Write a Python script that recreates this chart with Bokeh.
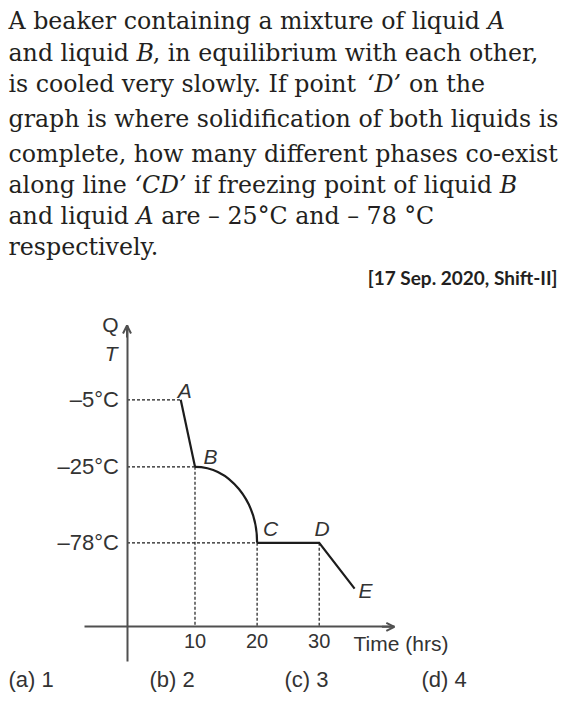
import numpy as np
from bokeh.plotting import figure
from bokeh.models import Range1d, Label, Arrow, OpenHead, FixedTicker
from bokeh.embed import file_html
from bokeh.resources import INLINE

# ---------------- data ----------------
point_names = ["A", "B", "C", "D", "E"]
time_hrs = [7.7, 10, 20, 30, 35.7]
temp_c = [-5, -25, -78, -78, -110]
temp_ticks = [-5, -25, -78]
temp_tick_labels = ["–5°C", "–25°C", "–78°C"]
time_ticks = [10, 20, 30]
time_tick_labels = ["10", "20", "30"]
options = ["(a) 1", "(b) 2", "(c) 3", "(d) 4"]
source_tag = "[17 Sep. 2020, Shift-II]"

question_lines = [
    [("A beaker containing a mixture of liquid ", "n"), ("A", "i")],
    [("and liquid ", "n"), ("B", "i"), (", in equilibrium with each other,", "n")],
    [("is cooled very slowly. If point ", "n"), ("‘D’", "i"), (" on the", "n")],
    [("graph is where solidification of both liquids is", "n")],
    [("complete, how many different phases co-exist", "n")],
    [("along line ", "n"), ("‘CD’", "i"), (" if freezing point of liquid ", "n"), ("B", "i")],
    [("and liquid ", "n"), ("A", "i"), (" are – 25°C and – 78 °C", "n")],
    [("respectively.", "n")],
]

# ---------------- schematic temperature axis (drawing is not to scale) ----------------
AXIS_T = [-78, -25, -5]
AXIS_POS = [0, 76, 143]


def t_pos(T):
    T = np.asarray(T, dtype=float)
    pos = np.interp(T, AXIS_T, AXIS_POS)
    lo = (AXIS_POS[1] - AXIS_POS[0]) / (AXIS_T[1] - AXIS_T[0])
    return np.where(T < AXIS_T[0], AXIS_POS[0] + (T - AXIS_T[0]) * lo, pos)


pos = t_pos(temp_c)

# ---------------- layout: frame fills the whole figure ----------------
W, H = 560, 696
PXH = 6.21            # pixels per hour
T0_PX = 132.4         # pixel column of t = 0
P0_PX = 542.3         # pixel row of schematic position 0 (-78 °C)
X0, X1 = -T0_PX / PXH, (W - T0_PX) / PXH
Y0, Y1 = P0_PX - H, P0_PX
BASE_SHIFT = 0.35     # label anchor sits ~0.35em above the glyph baseline

p = figure(width=W, height=H, x_range=Range1d(X0, X1), y_range=Range1d(Y0, Y1),
           output_backend="svg", toolbar_location=None, title=None,
           min_border=0, min_border_left=0, min_border_right=0,
           min_border_top=0, min_border_bottom=0,
           outline_line_color=None, background_fill_color="white",
           border_fill_color="white")
p.grid.visible = False

SANS = "Liberation Sans"
GREY = "#333333"
INK = "#1c1c1c"
AXC = "#505050"

AXIS_X = -0.95        # time value where the T axis is drawn
AXIS_Y = -84.0        # schematic position where the time axis is drawn
Y_TOP, Y_BOT = 217.3, -118.7
X_LEFT, X_RIGHT = -7.8, 42.1

xa, ya = p.xaxis[0], p.yaxis[0]
for ax in (xa, ya):
    ax.axis_line_color = AXC
    ax.axis_line_width = 2
    ax.major_tick_line_color = None
    ax.minor_tick_line_color = None
    ax.major_tick_out = 0
    ax.major_tick_in = 0
    ax.major_label_text_font = SANS
    ax.major_label_text_color = GREY

xa.fixed_location = AXIS_Y
xa.bounds = (X_LEFT, X_RIGHT)
xa.ticker = FixedTicker(ticks=time_ticks)
xa.major_label_overrides = {t: s for t, s in zip(time_ticks, time_tick_labels)}
xa.major_label_text_font_size = "20px"
xa.major_label_standoff = 7

ytick_pos = [float(v) for v in t_pos(temp_ticks)]
ya.fixed_location = AXIS_X
ya.bounds = (Y_BOT, Y_TOP)
ya.ticker = FixedTicker(ticks=ytick_pos)
ya.major_label_overrides = {v: s for v, s in zip(ytick_pos, temp_tick_labels)}
ya.major_label_text_font_size = "22px"
ya.major_label_standoff = 8

# arrow heads on the axes
p.add_layout(Arrow(end=OpenHead(size=8, line_color=AXC, line_width=2),
                   x_start=AXIS_X, y_start=Y_TOP - 12, x_end=AXIS_X, y_end=Y_TOP,
                   line_color=AXC, line_width=2))
p.add_layout(Arrow(end=OpenHead(size=8, line_color=AXC, line_width=2),
                   x_start=X_RIGHT - 2, y_start=AXIS_Y, x_end=X_RIGHT, y_end=AXIS_Y,
                   line_color=AXC, line_width=2))

# dashed guides
h_idx = [0, 1, 2]
v_idx = [1, 2, 3]
p.segment(x0=[AXIS_X] * len(h_idx), y0=[pos[i] for i in h_idx],
          x1=[time_hrs[i] for i in h_idx], y1=[pos[i] for i in h_idx],
          line_color=INK, line_width=1.2, line_dash="3 2")
p.segment(x0=[time_hrs[i] for i in v_idx], y0=[pos[i] for i in v_idx],
          x1=[time_hrs[i] for i in v_idx], y1=[AXIS_Y] * len(v_idx),
          line_color=INK, line_width=1.2, line_dash="3 2")

# cooling curve
p.line(time_hrs[0:2], pos[0:2], line_color=INK, line_width=2.2)
k = 0.5523
tB, pB, tC, pC = time_hrs[1], pos[1], time_hrs[2], pos[2]
p.bezier(x0=[tB], y0=[pB], x1=[tC], y1=[pC],
         cx0=[tB + k * (tC - tB)], cy0=[pB], cx1=[tC], cy1=[pC + k * (pB - pC)],
         line_color=INK, line_width=2.2)
p.line(time_hrs[2:5], pos[2:5], line_color=INK, line_width=2.2, line_join="miter")

# point letters (pixel offsets of the baseline from the point)
LSIZE = 21
letter_off = [(-3, 2), (8.5, 3), (6, 7), (-4.7, 7), (4, -9)]
for name, t, y, (dx, dy) in zip(point_names, time_hrs, pos, letter_off):
    p.add_layout(Label(x=t + dx / PXH, y=y + dy + BASE_SHIFT * LSIZE, text=name,
                       text_font=SANS, text_font_style="italic",
                       text_font_size=f"{LSIZE}px", text_color=GREY,
                       text_baseline="alphabetic", text_align="left"))


# ---------------- texts placed in page pixels ----------------
def img_label(X, Y, text, size, **kw):
    """X, Y in page pixels (Y = glyph baseline, measured from the top)."""
    base = dict(text_baseline="alphabetic", text_align="left")
    base.update(kw)
    p.add_layout(Label(x=X, y=H - Y + BASE_SHIFT * size, x_units="screen", y_units="screen",
                       text=text, text_font_size=f"{size}px", **base))


img_label(118, 331, "Q", 21, text_font=SANS, text_color=GREY, text_align="right")
img_label(117, 360, "T", 21, text_font=SANS, text_color=GREY,
          text_align="right", text_font_style="italic")
img_label(353, 650, "Time (hrs)", 21, text_font=SANS, text_color=GREY)

opt_x = [8, 149, 284, 421]
for x, s in zip(opt_x, options):
    img_label(x, 687, s, 22, text_font=SANS, text_color=GREY)

img_label(557, 284, source_tag, 19, text_font="Lato", text_font_style="bold",
          text_color="#231f20", text_align="right")

# question text (DejaVu Serif, approximate advance widths in em)
WID = {' ': 0.318, ',': 0.318, '.': 0.318, '-': 0.338, '–': 0.5, '°': 0.5, '‘': 0.318, '’': 0.318,
       'a': 0.596, 'b': 0.640, 'c': 0.560, 'd': 0.640, 'e': 0.592, 'f': 0.370, 'g': 0.640,
       'h': 0.644, 'i': 0.320, 'k': 0.606, 'l': 0.320, 'm': 0.948, 'n': 0.644, 'o': 0.602,
       'p': 0.640, 'q': 0.640, 'r': 0.478, 's': 0.513, 't': 0.402, 'u': 0.644, 'v': 0.565,
       'w': 0.856, 'x': 0.564, 'y': 0.565, 'z': 0.525,
       'A': 0.722, 'B': 0.686, 'C': 0.730, 'D': 0.826, 'I': 0.394}
QSIZE = 23.7


def tw(s):
    return sum(WID.get(c, 0.636) for c in s) * QSIZE


baselines = [29, 61, 92, 127, 162, 193, 224, 255]
for Y, segs in zip(baselines, question_lines):
    X = 8.0
    for txt, style in segs:
        lead = len(txt) - len(txt.lstrip(' '))
        shown = txt.strip(' ')
        img_label(X + tw(' ' * lead), Y, shown, QSIZE, text_font="DejaVu Serif",
                  text_color="#231f20",
                  text_font_style="italic" if style == "i" else "normal")
        X += tw(txt)

open("out.html", "w").write(file_html(p, INLINE))
